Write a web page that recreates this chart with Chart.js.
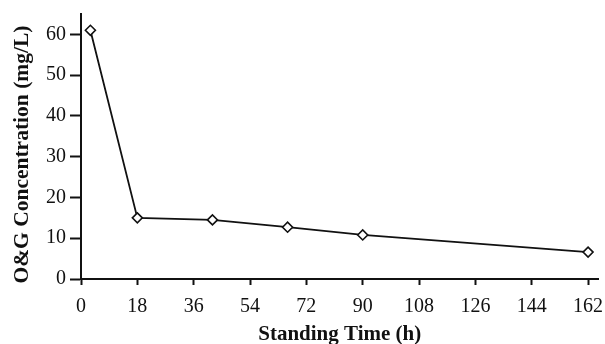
<!DOCTYPE html>
<html>
<head>
<meta charset="utf-8">
<script src="https://cdn.jsdelivr.net/npm/chart.js@4.4.0/dist/chart.umd.min.js"></script>
<style>
html,body{margin:0;padding:0;background:#fff;}
#wrap{width:605px;height:344px;position:relative;}
</style>
</head>
<body>
<div id="wrap"><canvas id="c" width="605" height="344"></canvas></div>
<script>
const timeHours = [3, 18, 42, 66, 90, 162];
const ogConcentration = [61.0, 15.0, 14.5, 12.7, 10.8, 6.6];
const xTickValues = [0, 18, 36, 54, 72, 90, 108, 126, 144, 162];
const yTickValues = [0, 10, 20, 30, 40, 50, 60];

const points = timeHours.map((t, i) => ({x: t, y: ogConcentration[i]}));
const serif = "'Liberation Serif', 'DejaVu Serif', serif";

new Chart(document.getElementById('c'), {
  type: 'scatter',
  data: {
    datasets: [{
      data: points,
      showLine: true,
      borderColor: '#111',
      borderWidth: 1.8,
      pointStyle: 'rectRot',
      pointRadius: 5,
      pointBackgroundColor: '#fff',
      pointBorderColor: '#111',
      pointBorderWidth: 1.6,
      tension: 0
    }]
  },
  options: {
    responsive: false,
    animation: false,
    devicePixelRatio: 1,
    layout: {padding: {left: 0, right: 1.5, top: 14, bottom: 0}},
    plugins: {legend: {display: false}, tooltip: {enabled: false}},
    scales: {
      x: {
        type: 'linear',
        min: 0, max: 165.3,
        afterBuildTicks: s => { s.ticks = xTickValues.map(v => ({value: v})); },
        afterFit: s => { s.height = 65; s.paddingLeft = 0; s.paddingRight = 0; },
        grid: {drawOnChartArea: false, drawTicks: true, tickLength: 6, tickWidth: 2, tickColor: '#111'},
        border: {display: true, color: '#111', width: 2},
        ticks: {color: '#111', font: {family: serif, size: 20}, padding: 10, maxRotation: 0, autoSkip: false},
        title: {display: true, text: 'Standing Time (h)', color: '#111', font: {family: serif, size: 21, weight: 'bold'}, padding: {top: 0, bottom: -3}}
      },
      y: {
        type: 'linear',
        min: 0, max: 65,
        afterBuildTicks: s => { s.ticks = yTickValues.map(v => ({value: v})); },
        afterFit: s => { s.width = 81; s.paddingTop = 0; s.paddingBottom = 0; },
        grid: {drawOnChartArea: false, drawTicks: true, tickLength: 11, tickWidth: 2, tickColor: '#111'},
        border: {display: true, color: '#111', width: 2},
        ticks: {color: '#111', font: {family: serif, size: 20}, padding: 4, autoSkip: false},
        title: {display: true, text: 'O&G Concentration (mg/L)   ', color: '#111', font: {family: serif, size: 21.5, weight: 'bold'}, padding: {top: 10, bottom: 0}}
      }
    }
  }
});
</script>
</body>
</html>
